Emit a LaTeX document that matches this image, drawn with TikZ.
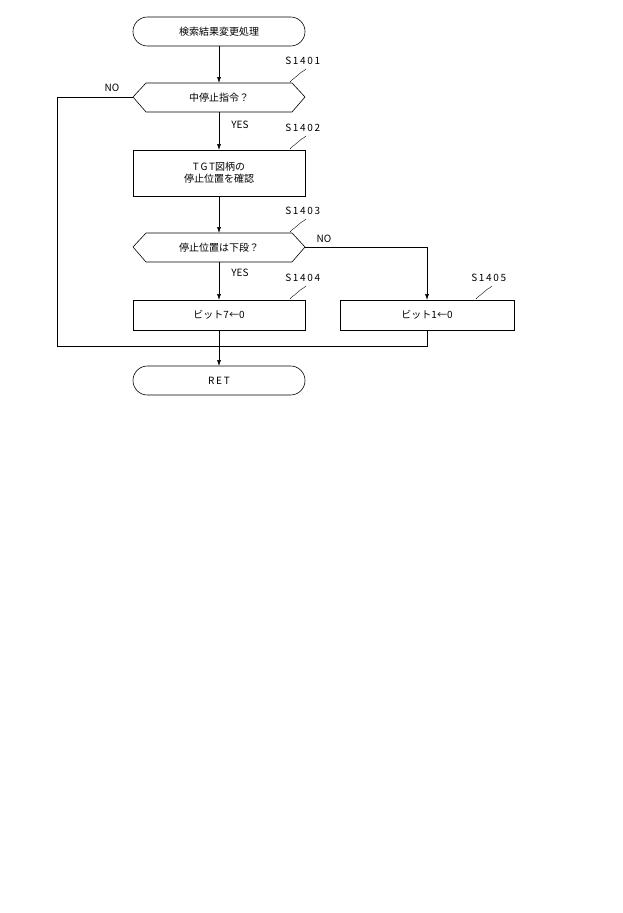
\documentclass[tikz,border=0pt]{standalone}
\usepackage{fontspec}
\usetikzlibrary{arrows.meta}
\setmainfont{Noto Sans CJK JP}
\begin{document}
\begin{tikzpicture}[x=1pt,y=-1pt,line width=0.6pt,
  lbl/.style={font=\fontsize{10}{11}\selectfont,inner sep=1pt},
  txt/.style={font=\fontsize{10}{12}\selectfont,align=center},
  term/.style={rounded corners=14.4pt},
  arr/.style={-{Latex[length=6pt,width=4pt]}}]
\useasboundingbox (0,0) rectangle (622,913);
% terminals
\draw[term] (133,17) rectangle (305,46);
\node[txt] (start) at (219,31.5) {検索結果変更処理};
\draw[term] (133,366) rectangle (305,395);
\node[txt] (ret) at (219,380.5) {R\,E\,T};
% diamonds
\draw (133,97) -- (146,83) -- (292,83) -- (305,97) -- (292,112) -- (146,112) -- cycle;
\node[txt] (d1) at (219,97.5) {中停止指令？};
\draw (133,247) -- (146,233) -- (292,233) -- (305,247) -- (292,262) -- (146,262) -- cycle;
\node[txt] (d2) at (219,247.5) {停止位置は下段？};
% rects
\draw (133,150) rectangle (305,196);
\node[txt] (r2) at (219,173) {T\,G\,T図柄の\\停止位置を確認};
\draw (133,300) rectangle (305,330);
\node[txt] (r4) at (219,315) {ビット7←0};
\draw (340,300) rectangle (514,330);
\node[txt] (r5) at (427,315) {ビット1←0};
% connectors
\coordinate (m) at (219,346);
\draw[arr] (219,46) -- (219,83);
\draw[arr] (219,112) -- (219,150);
\draw[arr] (219,196) -- (219,233);
\draw[arr] (219,262) -- (219,300);
\draw (219,330) -- (m);
\draw[arr] (m) -- (219,366);
\draw (133,97) -- (57,97) -- (57,346) -- (m);
\draw[arr] (305,247) -- (427,247) -- (427,300);
\draw (427,330) -- (427,346) -- (m);
\node[lbl] at (112,88) {NO};
\node[lbl] at (240,125) {YES};
\node[lbl] at (324,239) {NO};
\node[lbl] at (240,273) {YES};
% step labels
\foreach \x/\y/\t in {290/82/1, 290/149/2, 290/232/3, 290/299/4, 476/299/5}{
  \draw[line width=0.4pt] (\x,\y) .. controls (\x+3,\y-4) and (\x+6,\y-4) .. (\x+8,\y-7) .. controls (\x+10,\y-10) and (\x+13,\y-10) .. (\x+16,\y-13);
  \node[lbl,anchor=west] at (\x-6,\y-21) {S\,1\,4\,0\,\t};
}
\end{tikzpicture}
\end{document}
